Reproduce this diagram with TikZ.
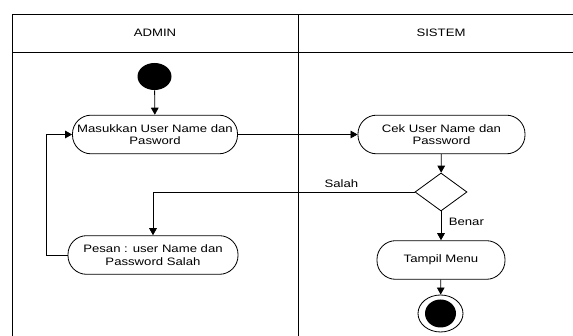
\documentclass[tikz,border=0pt]{standalone}
\usepackage{fontspec}
\setmainfont{Liberation Sans}[FakeStretch=1.22]
\usetikzlibrary{shapes.geometric,arrows.meta}

\begin{document}
\begin{tikzpicture}[line width=0.7pt,>={Triangle[width=6.5pt,length=6pt]},
  every node/.style={font=\fontsize{9.2}{10.6}\selectfont},
  act/.style={draw,rounded corners=0.56cm,minimum height=1.16cm,inner sep=1pt,align=center},
  blob/.style={ellipse,fill=black,inner sep=0pt},
  choice/.style={diamond,draw,inner sep=0pt,minimum width=1.56cm,minimum height=1.14cm}]
\useasboundingbox (0,0) rectangle (17.19,10.08);
\draw (0.36,0) -- (0.36,9.66) -- (17.19,9.66);
\draw (0.36,8.52) -- (17.19,8.52);
\draw (8.94,0) -- (8.94,9.66);
\node (admin) at (4.65,9.09) {ADMIN};
\node (sistem) at (13.23,9.09) {SISTEM};

\node[blob,minimum width=1.02cm,minimum height=0.81cm] (mulai) at (4.635,7.785) {};
\node[act,minimum width=4.95cm] (masuk) at (4.65,6.045) {Masukkan User Name dan\\Pasword};
\node[act,minimum width=5.01cm] (cek) at (13.245,6.045) {Cek User Name dan\\Password};
\node[choice] (pilih) at (13.23,4.32) {};
\node[act,minimum width=5.1cm] (pesan) at (4.59,2.43) {Pesan : user Name dan\\Password Salah};
\node[act,minimum width=3.84cm] (menu) at (13.23,2.28) {Tampil Menu};
\node[ellipse,draw,inner sep=0pt,minimum width=1.35cm,minimum height=1.11cm] (selesai) at (13.215,0.675) {};
\node[blob,minimum width=0.93cm,minimum height=0.84cm] (selesai2) at (selesai) {};
\coordinate (balik) at (1.38,0);

\draw[->] (mulai) -- (masuk);
\draw[->] (masuk) -- (cek);
\draw[->] (cek) -- (pilih);
\draw[->] (pilih.west) -| node[above,pos=0.14] {Salah} (pesan.north);
\draw[->] (pilih) -- node[right=3pt,pos=0.35] {Benar} (menu);
\draw[->] (menu) -- (selesai);
\draw[->] (pesan.west) -- (pesan.west -| balik) |- (masuk.west);
\end{tikzpicture}
\end{document}
